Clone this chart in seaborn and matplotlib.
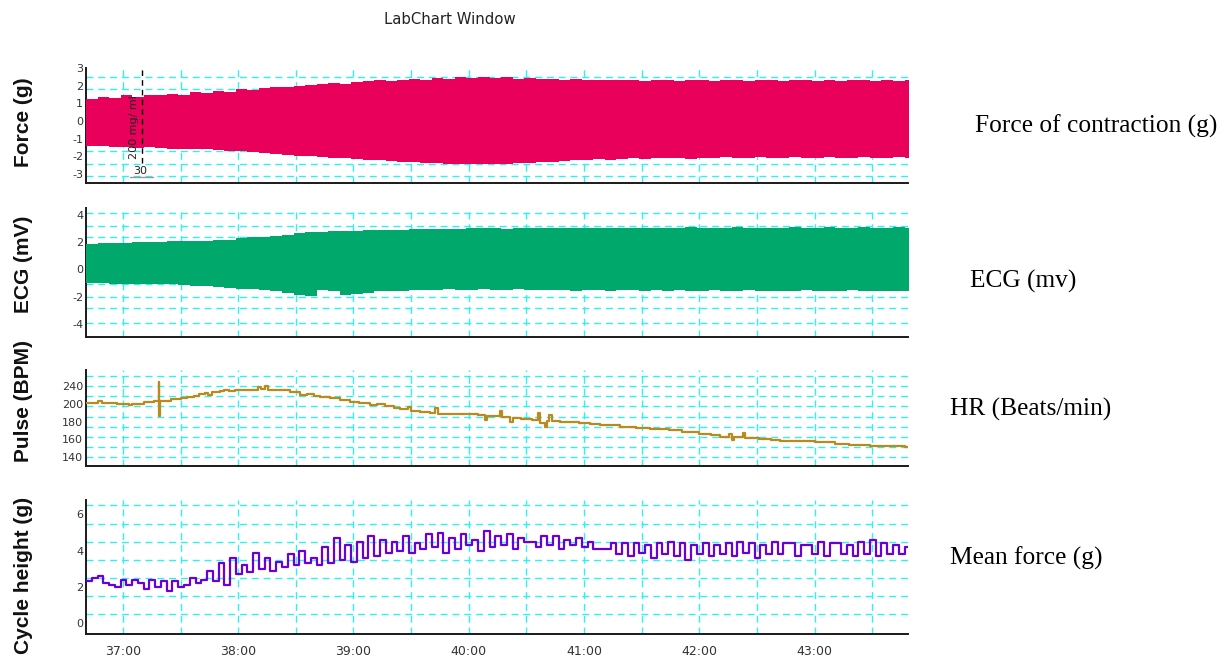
import numpy as np
import pandas as pd
import matplotlib
matplotlib.use("Agg")
import matplotlib.pyplot as plt
import seaborn as sns
from matplotlib.transforms import blended_transform_factory

# ---------------- data ----------------
x_ticks = [37, 38, 39, 40, 41, 42, 43]
x_tick_labels = ["37:00", "38:00", "39:00", "40:00", "41:00", "42:00", "43:00"]

# Force of contraction envelope (g), every 0.1 min from 36:41
force_top = [1.25, 1.35, 1.3, 1.45, 1.35, 1.45, 1.5, 1.55, 1.5, 1.65,
             1.6, 1.7, 1.65, 1.8, 1.75, 1.85, 1.9, 1.95, 2.0, 2.05,
             2.1, 2.15, 2.1, 2.2, 2.25, 2.3, 2.25, 2.35, 2.4, 2.35,
             2.45, 2.4, 2.5, 2.45, 2.5, 2.45, 2.5, 2.4, 2.45, 2.4,
             2.4, 2.35, 2.4, 2.3, 2.35, 2.3, 2.35, 2.3, 2.25, 2.3,
             2.3, 2.25, 2.35, 2.3, 2.25, 2.3, 2.3, 2.25, 2.3, 2.3,
             2.25, 2.3, 2.3, 2.25, 2.3, 2.25, 2.3, 2.3, 2.25, 2.3, 2.25, 2.3, 2.3]
force_bottom = [-1.4, -1.4, -1.45, -1.45, -1.5, -1.45, -1.5, -1.55, -1.55, -1.6,
                -1.6, -1.65, -1.7, -1.7, -1.75, -1.8, -1.85, -1.9, -1.95, -2.0,
                -2.05, -2.1, -2.1, -2.15, -2.2, -2.2, -2.25, -2.3, -2.3, -2.35,
                -2.35, -2.4, -2.4, -2.4, -2.45, -2.4, -2.4, -2.35, -2.35, -2.3,
                -2.3, -2.25, -2.2, -2.2, -2.15, -2.2, -2.15, -2.1, -2.15, -2.1,
                -2.1, -2.1, -2.15, -2.1, -2.1, -2.05, -2.1, -2.1, -2.05, -2.1,
                -2.1, -2.05, -2.1, -2.1, -2.05, -2.1, -2.1, -2.05, -2.1, -2.1, -2.05, -2.1, -2.1]

# ECG envelope (mV), every 0.1 min
ecg_top = [1.85, 1.9, 1.95, 1.95, 2.0, 2.0, 2.0, 2.05, 2.05, 2.1,
           2.1, 2.15, 2.15, 2.3, 2.35, 2.4, 2.45, 2.55, 2.7, 2.75,
           2.75, 2.8, 2.8, 2.85, 2.9, 2.9, 2.9, 2.9, 2.95, 2.95,
           2.95, 2.95, 2.95, 3.0, 3.0, 3.0, 2.95, 3.0, 3.0, 3.0,
           3.0, 3.05, 3.0, 3.05, 3.05, 3.0, 3.05, 3.05, 3.05, 3.05,
           3.05, 3.05, 3.1, 3.05, 3.05, 3.05, 3.1, 3.05, 3.05, 3.05,
           3.05, 3.1, 3.05, 3.05, 3.1, 3.05, 3.05, 3.1, 3.05, 3.05, 3.1, 3.05, 3.05]
ecg_bottom = [-1.0, -1.0, -1.05, -1.05, -1.05, -1.05, -1.1, -1.1, -1.15, -1.2,
              -1.25, -1.3, -1.35, -1.4, -1.45, -1.5, -1.55, -1.75, -1.9, -1.95,
              -1.5, -1.55, -1.9, -1.8, -1.7, -1.6, -1.55, -1.55, -1.5, -1.5,
              -1.5, -1.45, -1.5, -1.5, -1.45, -1.5, -1.5, -1.45, -1.5, -1.5,
              -1.5, -1.5, -1.55, -1.5, -1.5, -1.55, -1.5, -1.5, -1.55, -1.5,
              -1.55, -1.5, -1.55, -1.55, -1.5, -1.55, -1.55, -1.5, -1.55, -1.55,
              -1.55, -1.55, -1.5, -1.55, -1.55, -1.55, -1.5, -1.55, -1.55, -1.55, -1.55, -1.55, -1.55]

# Pulse (BPM) step trace: time in minutes, value in BPM
hr_time = [36.68, 36.78, 36.82, 36.95, 37.05, 37.08, 37.18, 37.27, 37.31, 37.315,
           37.32, 37.42, 37.50, 37.56, 37.62, 37.66, 37.71, 37.74, 37.77, 37.84,
           37.88, 37.92, 37.97, 38.05, 38.12, 38.17, 38.20, 38.23, 38.26, 38.36,
           38.45, 38.54, 38.60, 38.66, 38.71, 38.80, 38.88, 38.97, 39.05, 39.14,
           39.20, 39.27, 39.35, 39.40, 39.47, 39.50, 39.58, 39.66, 39.71, 39.73,
           39.80, 39.90, 40.01, 40.08, 40.14, 40.16, 40.27, 40.29, 40.36, 40.38,
           40.45, 40.55, 40.60, 40.62, 40.66, 40.68, 40.70, 40.72, 40.79, 40.96,
           41.05, 41.14, 41.31, 41.45, 41.57, 41.74, 41.85, 42.00, 42.10, 42.18,
           42.26, 42.28, 42.30, 42.38, 42.40, 42.52, 42.62, 42.70, 42.87, 43.00,
           43.18, 43.30, 43.48, 43.60, 43.78, 43.81]
hr_bpm = [201, 203, 201, 200, 199, 200, 202, 203, 224, 186,
          203, 205, 206, 208, 209, 211, 212, 210, 213, 214,
          216, 214, 215, 216, 215, 219, 217, 220, 216, 215,
          213, 210, 211, 209, 208, 206, 204, 202, 201, 199,
          200, 197, 195, 194, 196, 192, 191, 190, 195, 189,
          188, 189, 188, 187, 182, 186, 192, 185, 179, 184,
          183, 182, 190, 178, 174, 181, 187, 181, 179, 178,
          177, 176, 174, 173, 172, 170, 168, 166, 165, 163,
          166, 159, 163, 167, 162, 160, 159, 158, 158, 157,
          155, 154, 152, 152, 151, 151]
hr_ticks = [140, 160, 180, 200, 220]
hr_tick_labels = ["140", "160", "180", "200", "240"]

# Cycle height (g), every 0.05 min
cycle_height = [2.3, 2.5, 2.6, 2.2, 2.1, 2.0, 2.4, 2.1, 2.4, 2.2,
                1.9, 2.4, 2.0, 2.3, 1.8, 2.3, 2.0, 2.1, 2.5, 2.2,
                2.4, 2.9, 2.3, 3.3, 2.1, 3.6, 2.7, 3.2, 2.8, 3.9,
                3.0, 3.6, 2.9, 3.4, 3.1, 3.8, 3.2, 4.0, 3.3, 3.6,
                3.2, 4.2, 3.3, 4.7, 3.5, 4.3, 3.4, 4.5, 3.6, 4.8,
                3.7, 4.6, 3.9, 4.5, 4.0, 4.8, 3.9, 4.4, 4.1, 4.9,
                4.2, 5.0, 3.9, 4.7, 4.1, 4.9, 4.3, 4.6, 4.0, 5.1,
                4.2, 4.8, 4.3, 4.9, 4.1, 4.7, 4.5, 4.5, 4.2, 4.8,
                4.3, 4.8, 4.1, 4.6, 4.3, 4.7, 4.2, 4.5, 4.1, 4.1,
                4.1, 4.4, 3.8, 4.4, 3.7, 4.4, 3.9, 4.3, 3.6, 4.4,
                3.8, 4.5, 3.7, 4.4, 3.5, 4.3, 3.8, 4.4, 3.7, 4.3,
                3.8, 4.4, 3.7, 4.5, 3.9, 4.4, 3.6, 4.3, 3.8, 4.5,
                3.8, 4.4, 4.4, 3.7, 4.3, 4.3, 3.8, 4.5, 3.7, 4.4,
                4.4, 3.8, 4.3, 3.7, 4.5, 3.8, 4.6, 3.7, 4.4, 3.8,
                4.3, 3.8, 4.2, 3.9]

panel_labels = ["Force (g)", "ECG (mV)", "Pulse (BPM)", "Cycle height (g)"]
right_labels = ["Force of contraction (g)", "ECG (mv)", "HR (Beats/min)", "Mean force (g)"]
comment_time = 37.17
comment_text = "200 mg/ ml"
comment_id = "30"

# ---------------- build tables ----------------
t0 = 36.68
env_time = t0 + 0.1 * np.arange(len(force_top))
cyc_time = t0 + 0.05 * np.arange(len(cycle_height))
hr_df = pd.DataFrame({"time": hr_time, "bpm": hr_bpm})
cyc_df = pd.DataFrame({"time": cyc_time, "height": cycle_height})

# ---------------- style ----------------
sns.set_theme(style="white")
plt.rcParams['font.family'] = ['DejaVu Sans']
plt.rcParams['axes.unicode_minus'] = False

FORCE_C = "#E8005A"
ECG_C = "#00A86B"
HR_C = "#BA8A1C"
CYC_C = "#6A00D4"
GRID_C = "#2EF2F2"

W, H = 1228, 658
fig = plt.figure(figsize=(W / 100, H / 100), dpi=100)

def rect(top, bottom, left=86, right=908):
    return [left / W, 1 - bottom / H, (right - left) / W, (bottom - top) / H]

ax1 = fig.add_axes(rect(68, 183))
ax2 = fig.add_axes(rect(208, 337))
ax3 = fig.add_axes(rect(370, 466))
ax4 = fig.add_axes(rect(500, 634))
axes = [ax1, ax2, ax3, ax4]

xlim = (36.68, 43.81)
x_grid = np.arange(36.5, 44.01, 0.5)

# Force
ax1.fill_between(env_time, force_bottom, force_top, step="post", color=FORCE_C, lw=0, zorder=3)
ax1.set_yticks([3, 2, 1, 0, -1, -2, -3])
ax1.set_yticks(np.arange(-3.1, 3.0, 0.7), minor=True)

# ECG
ax2.fill_between(env_time, ecg_bottom, ecg_top, step="post", color=ECG_C, lw=0, zorder=3)
ax2.set_yticks([4, 2, 0, -2, -4])
ax2.set_yticks([4.1, 3.2, 2.35, 1.5, 0.6, -0.25, -1.1, -2.0, -2.85, -3.9], minor=True)

# Pulse
sns.lineplot(data=hr_df, x="time", y="bpm", ax=ax3, color=HR_C, lw=1.6,
             drawstyle="steps-post", estimator=None, sort=False, zorder=3)
ax3.set_yticks(hr_ticks)
ax3.set_yticklabels(hr_tick_labels)
ax3.set_yticks(np.arange(140.3, 235, 11.33), minor=True)

# Cycle height
sns.lineplot(data=cyc_df, x="time", y="height", ax=ax4, color=CYC_C, lw=1.6,
             drawstyle="steps-post", estimator=None, sort=False, zorder=3)
ax4.set_yticks([6, 4, 2, 0])
ax4.set_yticks(np.arange(0.5, 6.6, 1.0), minor=True)

ylims = [(-3.5, 3.0), (-4.95, 4.5), (130, 238), (-0.6, 6.8)]
label_y = [0.53, 0.566, 0.677, 0.44]
for ax, lab, ly, yl in zip(axes, panel_labels, label_y, ylims):
    ax.set_xticks(x_ticks)
    ax.set_xticks(x_grid, minor=True)
    ax.xaxis.remove_overlapping_locs = False
    ax.yaxis.remove_overlapping_locs = False
    ax.set_xlim(*xlim)
    ax.set_ylim(*yl)
    ax.grid(False)
    ax.grid(which="minor", axis="both", color=GRID_C, linestyle=(0, (5, 3.5)), lw=1.0, zorder=1)
    for s in ["top", "right"]:
        ax.spines[s].set_visible(False)
    for s in ["left", "bottom"]:
        ax.spines[s].set_color("#1a1a1a")
        ax.spines[s].set_linewidth(1.4)
    ax.tick_params(axis="y", which="both", length=0, pad=2, labelsize=8, labelcolor="#333333")
    ax.tick_params(axis="x", which="minor", length=0)
    ax.set_ylabel(lab, fontsize=15, fontweight="bold", family=["Liberation Sans", "DejaVu Sans"], color="#111111")
    ax.yaxis.set_label_coords(-0.064, ly)
    ax.set_xlabel("")
    ax.set_facecolor("white")

for ax in axes[:3]:
    ax.tick_params(axis="x", which="major", length=0, labelbottom=False)
ax4.set_xticklabels(x_tick_labels)
ax4.tick_params(axis="x", which="major", length=3, width=1, color="#1a1a1a", direction="out",
                pad=5, labelsize=9, labelcolor="#333333")

# comment marker in Force panel
ax1.axvline(comment_time, ymin=0.174, ymax=1.0, color="black", linestyle=(0, (4, 3)), lw=1.0, zorder=4)
tr = blended_transform_factory(ax1.transData, ax1.transAxes)
ax1.text(comment_time - 0.075, 0.49, comment_text, rotation=90, ha="center", va="center",
         fontsize=8, color="#222222", transform=tr, zorder=5)
ax1.text(comment_time - 0.02, 0.10, comment_id, ha="center", va="center",
         fontsize=8, color="#222222", transform=tr, zorder=5)
ax1.plot([comment_time - 0.11, comment_time + 0.09], [0.05, 0.05], color="#999999", lw=1.0,
         transform=tr, clip_on=False, zorder=5)

# title
fig.text(450 / W, 1 - 20 / H, "LabChart Window", ha="center", va="center", fontsize=10.7, color="#222222")

# right-hand descriptive labels
serif = ["Liberation Serif", "DejaVu Serif"]
right_pos = [(975, 126), (970, 281), (950, 409), (950, 558)]
for txt, (px, py) in zip(right_labels, right_pos):
    fig.text(px / W, 1 - py / H, txt, ha="left", va="center", fontsize=18.3, family=serif, color="black")

fig.savefig("out.png", dpi=100, facecolor="white")
